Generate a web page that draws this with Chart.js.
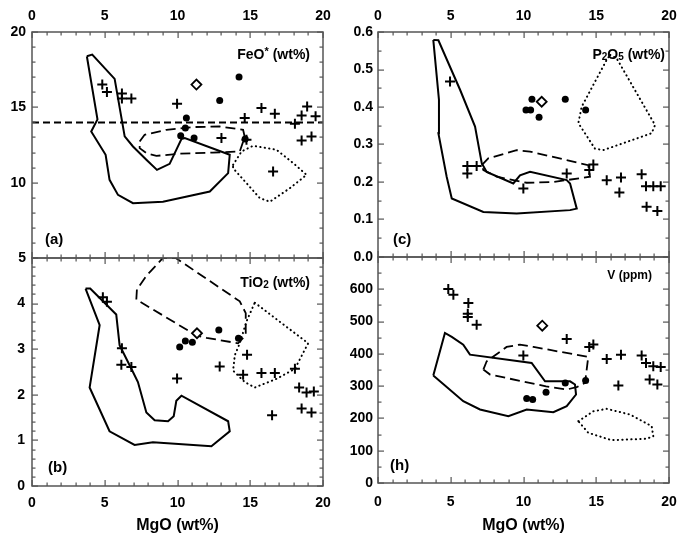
<!DOCTYPE html>
<html>
<head>
<meta charset="utf-8">
<script src="https://cdn.jsdelivr.net/npm/chart.js@4.4.1/dist/chart.umd.min.js"></script>
<style>
    body { margin: 0; background: #fff; overflow: hidden; }
    #wrap { position: relative; width: 677px; height: 538px; overflow: hidden; }
    #wrap canvas { position: absolute; left: 0; top: 0; }
</style>
</head>
<body>
<div id="wrap">
    <canvas id="chartA" width="720" height="538"></canvas>
    <canvas id="chartB" width="720" height="538"></canvas>
    <canvas id="chartC" width="720" height="538"></canvas>
    <canvas id="chartH" width="720" height="538"></canvas>
</div>
<script>
// MgO (wt%) on every x axis
const mgoTicks = [0, 5, 10, 15, 20];

// (a) FeO* (wt%)
const feoTicks = [5, 10, 15, 20];
const feoField = [[3.77, 18.39], [4.14, 18.5], [5.68, 16.89], [6.37, 13.07], [6.94, 12.4], [7.86, 11.52], [8.59, 10.85], [9.46, 11.25], [10.27, 12.89], [10.5, 12.96], [13.59, 11.85], [13.48, 10.63], [12.22, 9.41], [9.0, 8.74], [6.94, 8.64], [5.91, 9.19], [5.33, 10.19], [5.06, 11.85], [4.07, 13.4], [4.5, 14.2], [3.77, 18.39]];
const feoDash = [[7.4, 12.73], [7.74, 13.18], [9.24, 13.51], [11.07, 13.69], [12.9, 13.73], [14.51, 13.51], [14.62, 13.03], [14.28, 12.07], [12.44, 12.0], [10.15, 11.92], [8.55, 11.78], [7.86, 11.96], [7.4, 12.29], [7.4, 12.73]];
const feoDot = [[13.82, 11.18], [14.4, 12.07], [15.2, 12.45], [16.81, 12.18], [17.95, 11.3], [18.87, 10.52], [17.72, 9.63], [16.35, 8.74], [15.66, 8.97], [14.74, 9.97], [13.82, 10.96], [13.82, 11.18]];
const feoRef = [[0, 14], [20, 14]];
const feoCross = [[4.83, 16.51], [5.15, 16.02], [6.18, 15.91], [6.18, 15.58], [6.83, 15.58], [9.97, 15.24], [13.02, 12.96], [14.62, 14.29], [14.74, 12.85], [15.77, 14.96], [16.69, 14.58], [16.57, 10.74], [18.07, 13.91], [18.53, 14.45], [18.91, 15.06], [19.49, 14.4], [18.53, 12.8], [19.21, 13.07]];
const feoDots = [[14.23, 17.02], [12.9, 15.46], [10.61, 14.29], [10.54, 13.63], [10.22, 13.11], [11.14, 12.96], [14.65, 12.9]];
const feoDiamond = [[11.3, 16.51]];

// (b) TiO2 (wt%)
const tio2Ticks = [0, 1, 2, 3, 4];
const tio2Field = [[3.68, 4.33], [4.0, 4.33], [5.79, 3.76], [6.02, 3.09], [6.94, 2.5], [7.28, 2.28], [7.86, 1.61], [8.43, 1.44], [9.35, 1.42], [9.74, 1.53], [9.92, 1.87], [10.27, 1.98], [13.48, 1.42], [13.59, 1.2], [12.33, 0.87], [8.31, 0.96], [7.05, 0.9], [5.33, 1.2], [3.96, 2.16], [4.65, 3.53], [3.68, 4.33]];
const tio2Dash = [[7.17, 4.09], [7.21, 4.31], [7.86, 4.61], [9.0, 5.0], [9.88, 5.0], [14.28, 4.05], [14.69, 3.79], [14.69, 3.31], [14.16, 3.13], [11.99, 3.25], [11.3, 3.3], [7.17, 4.09]];
const tio2Dot = [[15.31, 4.02], [18.98, 3.13], [18.07, 2.57], [16.81, 2.35], [15.31, 2.16], [14.62, 2.28], [13.82, 2.53], [13.94, 2.87], [14.28, 3.13], [14.74, 3.61], [15.31, 4.02]];
const tio2Cross = [[4.87, 4.14], [5.15, 4.04], [6.18, 3.02], [6.14, 2.66], [6.83, 2.61], [9.97, 2.36], [12.9, 2.62], [14.78, 2.88], [14.51, 2.44], [15.77, 2.48], [16.69, 2.48], [18.07, 2.57], [18.36, 2.16], [18.87, 2.05], [19.37, 2.07], [18.53, 1.7], [19.21, 1.61], [16.5, 1.55]];
const tio2Dots = [[10.15, 3.05], [10.54, 3.18], [11.02, 3.15], [12.84, 3.42], [14.19, 3.24]];
const tio2Diamond = [[11.34, 3.35]];

// (c) P2O5 (wt%)
const p2o5Ticks = [0, 0.1, 0.2, 0.3, 0.4, 0.5, 0.6];
const p2o5Field = [[3.8, 0.579], [4.15, 0.578], [5.64, 0.446], [6.67, 0.348], [7.13, 0.25], [7.47, 0.227], [9.3, 0.196], [9.76, 0.218], [10.45, 0.227], [12.97, 0.205], [13.2, 0.196], [13.66, 0.129], [13.2, 0.125], [9.53, 0.116], [7.24, 0.12], [5.07, 0.156], [4.72, 0.214], [4.15, 0.33], [4.19, 0.419], [3.8, 0.579]];
const p2o5Dash = [[7.13, 0.245], [7.58, 0.263], [9.53, 0.285], [10.45, 0.281], [14.45, 0.245], [14.57, 0.214], [12.05, 0.2], [10.22, 0.198], [8.16, 0.214], [7.24, 0.232], [7.13, 0.245]];
const p2o5Dot = [[15.95, 0.539], [16.4, 0.53], [19.04, 0.352], [18.81, 0.33], [15.48, 0.285], [14.91, 0.289], [13.77, 0.357], [14.0, 0.401], [15.72, 0.526], [15.95, 0.539]];
const p2o5Cross = [[4.95, 0.468], [6.14, 0.243], [6.78, 0.243], [6.14, 0.223], [9.99, 0.183], [12.97, 0.223], [14.8, 0.247], [14.52, 0.232], [15.72, 0.205], [16.7, 0.212], [16.59, 0.172], [18.12, 0.221], [18.42, 0.189], [18.92, 0.189], [19.43, 0.189], [18.46, 0.134], [19.2, 0.123]];
const p2o5Dots = [[10.17, 0.392], [10.49, 0.392], [10.58, 0.421], [11.07, 0.373], [12.87, 0.421], [14.27, 0.392]];
const p2o5Diamond = [[11.25, 0.414]];

// (h) V (ppm)
const vTicks = [0, 100, 200, 300, 400, 500, 600];
const vField = [[3.8, 332.7], [4.6, 464.7], [5.07, 452.4], [5.86, 428.6], [6.32, 397.6], [10.56, 372], [11.48, 315], [13.2, 315], [13.54, 305], [13.61, 274], [12.97, 237.8], [12.05, 219.2], [10.22, 227.6], [8.96, 206.9], [7.01, 227.6], [5.86, 253.3], [3.8, 332.7]];
const vDash = [[7.24, 351.3], [7.47, 377], [8.84, 421.5], [9.76, 428.6], [10.68, 421.5], [14.45, 390.6], [14.23, 310], [13.7, 297.8], [12.97, 289.4], [11.55, 299.6], [7.7, 335.8], [7.24, 351.3]];
const vDot = [[13.77, 191.4], [14.8, 222.3], [15.72, 229.7], [17.32, 212.1], [18.81, 176], [18.92, 145], [18.46, 137], [16.04, 132.7], [14.45, 155.5], [13.77, 191.4]];
const vCross = [[4.83, 600.8], [5.18, 583], [6.21, 557.5], [6.17, 524.4], [6.17, 514], [6.78, 490.4], [9.99, 394.6], [12.97, 446.2], [14.52, 421.5], [14.8, 428.6], [15.72, 384.4], [16.7, 397.6], [16.52, 301.8], [18.12, 394.6], [18.42, 372], [18.92, 361.5], [19.43, 359.6], [18.67, 320.3], [19.2, 304.9]];
const vDots = [[10.22, 261.6], [10.63, 258.5], [11.55, 281.1], [12.87, 310], [14.27, 317.3]];
const vDiamond = [[11.29, 487.3]];

const FONT = '"Liberation Sans", Arial, Helvetica, sans-serif';
Chart.defaults.font.family = FONT;
Chart.defaults.font.weight = 'bold';
Chart.defaults.font.size = 14;
Chart.defaults.color = '#000';


// inner tick marks on all four sides plus the frame
function innerTicks(p) {
    return {
        id: 'innerTicks',
        afterDraw(chart) {
            const ctx = chart.ctx;
            const a = chart.chartArea;
            const xs = chart.scales.x, ys = chart.scales.y;
            const w = a.right - a.left, h = a.bottom - a.top;
            ctx.save();
            ctx.fillStyle = '#555';
            for (let i = 0; i <= 20; i++) {
                let px = xs.getPixelForValue(i);
                if (!Number.isFinite(px)) px = a.left + w * i / 20;
                const len = i % 5 === 0 ? 6 : 3.5;
                ctx.fillRect(Math.round(px) - 0.5, a.top, 1.2, len);
                ctx.fillRect(Math.round(px) - 0.5, a.bottom - len, 1.2, len);
            }
            const n = Math.round((p.yMax - p.yMin) / p.yMinor);
            for (let i = 0; i <= n; i++) {
                let py = ys.getPixelForValue(p.yMin + i * p.yMinor);
                if (!Number.isFinite(py)) py = a.bottom - h * i / n;
                const len = i % p.yEvery === 0 ? 6 : 3.5;
                ctx.fillRect(a.left, Math.round(py) - 0.5, len, 1.2);
                ctx.fillRect(a.right - len, Math.round(py) - 0.5, len, 1.2);
            }
            ctx.strokeStyle = '#555';
            ctx.lineWidth = 1.5;
            ctx.strokeRect(a.left, a.top, w, h);
            ctx.restore();
        }
    };
}

// panel title (with sub/superscripts) and panel letter
function panelText(o) {
    return {
        id: 'panelText',
        afterDraw(chart) {
            const ctx = chart.ctx;
            const a = chart.chartArea;
            ctx.save();
            ctx.fillStyle = '#000';
            ctx.textBaseline = 'middle';
            ctx.textAlign = 'left';
            let w = 0;
            o.title.forEach(t => {
                ctx.font = 'bold ' + t[1] + 'px ' + FONT;
                w += ctx.measureText(t[0]).width;
            });
            let tx = a.right - o.titleRight - w;
            o.title.forEach(t => {
                ctx.font = 'bold ' + t[1] + 'px ' + FONT;
                ctx.fillText(t[0], tx, a.top + o.titleTop + (t[2] || 0));
                tx += ctx.measureText(t[0]).width;
            });
            ctx.font = 'bold 15px ' + FONT;
            ctx.fillText(o.tag, a.left + o.tagLeft, a.bottom - o.tagBottom);
            ctx.restore();
        }
    };
}


function lineSet(pts, dash, width, cap) {
    return {
        data: pts,
        showLine: true,
        fill: false,
        tension: 0,
        pointRadius: 0,
        borderColor: '#000',
        borderWidth: width,
        borderDash: dash,
        borderCapStyle: cap || 'butt'
    };
}


function makePanel(id, p) {
    let sets = [
        { data: p.diamond, pointStyle: 'rectRot', pointRadius: 5, backgroundColor: '#fff', borderColor: '#000', borderWidth: 1.8 },
        { data: p.dots, pointStyle: 'circle', pointRadius: 3.5, backgroundColor: '#000', borderColor: '#000', borderWidth: 0 },
        { data: p.cross, pointStyle: 'cross', pointRadius: 5, borderColor: '#000', borderWidth: 2 },
        lineSet(p.field, [], 2),
        lineSet(p.dash, [10, 5], 1.8),
        lineSet(p.dot, [0.3, 4.2], 2, 'round')
    ];
    if (p.ref) sets.push(lineSet(p.ref, [7, 4], 2));

    return new Chart(document.getElementById(id), {
        type: 'scatter',
        data: { datasets: sets },
        options: {
            responsive: false,
            animation: false,
            events: [],
            layout: { padding: p.padding },
            plugins: {
                legend: { display: false },
                tooltip: { enabled: false }
            },
            scales: {
                x: {
                    type: 'linear',
                    position: p.xPos,
                    min: 0, max: 20,
                    afterBuildTicks: s => { s.ticks = mgoTicks.map(v => ({ value: v })); },
                    afterFit: s => { s.height = p.xHeight; },
                    grid: { display: false, drawTicks: false },
                    border: { display: false },
                    ticks: { padding: p.xPad, maxRotation: 0 },
                    title: {
                        display: p.xPos === 'bottom',
                        text: 'MgO (wt%)',
                        font: { size: 16, weight: 'bold' },
                        padding: { top: 0, bottom: 3 }
                    }
                },
                y: {
                    type: 'linear',
                    min: p.yMin, max: p.yMax,
                    afterBuildTicks: s => { s.ticks = p.yTicks.map(v => ({ value: v })); },
                    afterFit: s => { s.width = p.yWidth; },
                    grid: { display: false, drawTicks: false },
                    border: { display: false },
                    ticks: { padding: p.yPad, callback: p.yFmt || (v => v) }
                }
            }
        },
        plugins: [innerTicks(p), panelText(p.text)]
    });
}


makePanel('chartA', {
    field: feoField, dash: feoDash, dot: feoDot, ref: feoRef,
    cross: feoCross, dots: feoDots, diamond: feoDiamond,
    yMin: 5, yMax: 20, yTicks: feoTicks, yMinor: 1, yEvery: 5,
    xPos: 'top', xHeight: 32, xPad: 7, yWidth: 32, yPad: 6,
    padding: { left: 0, top: 0, right: 397, bottom: 280 },
    text: { title: [['FeO', 14], ['*', 11, -3], [' (wt%)', 14]], titleRight: 13, titleTop: 23, tag: '(a)', tagLeft: 13, tagBottom: 18 }
});

makePanel('chartB', {
    field: tio2Field, dash: tio2Dash, dot: tio2Dot,
    cross: tio2Cross, dots: tio2Dots, diamond: tio2Diamond,
    yMin: 0, yMax: 5, yTicks: tio2Ticks, yMinor: 0.2, yEvery: 5,
    xPos: 'bottom', xHeight: 52, xPad: 9, yWidth: 32, yPad: 7,
    padding: { left: 0, top: 258, right: 397, bottom: 0 },
    text: { title: [['TiO', 14], ['2', 10, 2], [' (wt%)', 14]], titleRight: 13, titleTop: 25, tag: '(b)', tagLeft: 16, tagBottom: 18 }
});

makePanel('chartC', {
    field: p2o5Field, dash: p2o5Dash, dot: p2o5Dot,
    cross: p2o5Cross, dots: p2o5Dots, diamond: p2o5Diamond,
    yMin: 0, yMax: 0.6, yTicks: p2o5Ticks, yMinor: 0.05, yEvery: 2,
    yFmt: v => Number(v).toFixed(1),
    xPos: 'top', xHeight: 32, xPad: 7, yWidth: 36, yPad: 5,
    padding: { left: 342, top: 0, right: 51, bottom: 281 },
    text: { title: [['P', 14], ['2', 10, 2], ['O', 14], ['5', 10, 2], [' (wt%)', 14]], titleRight: 4, titleTop: 23, tag: '(c)', tagLeft: 15, tagBottom: 17 }
});

makePanel('chartH', {
    field: vField, dash: vDash, dot: vDot,
    cross: vCross, dots: vDots, diamond: vDiamond,
    yMin: 0, yMax: 700, yTicks: vTicks, yMinor: 50, yEvery: 2,
    xPos: 'bottom', xHeight: 55, xPad: 11, yWidth: 36, yPad: 5,
    padding: { left: 342, top: 257, right: 51, bottom: 0 },
    text: { title: [['V (ppm)', 12]], titleRight: 17, titleTop: 19, tag: '(h)', tagLeft: 12, tagBottom: 17 }
});
</script>
</body>
</html>
